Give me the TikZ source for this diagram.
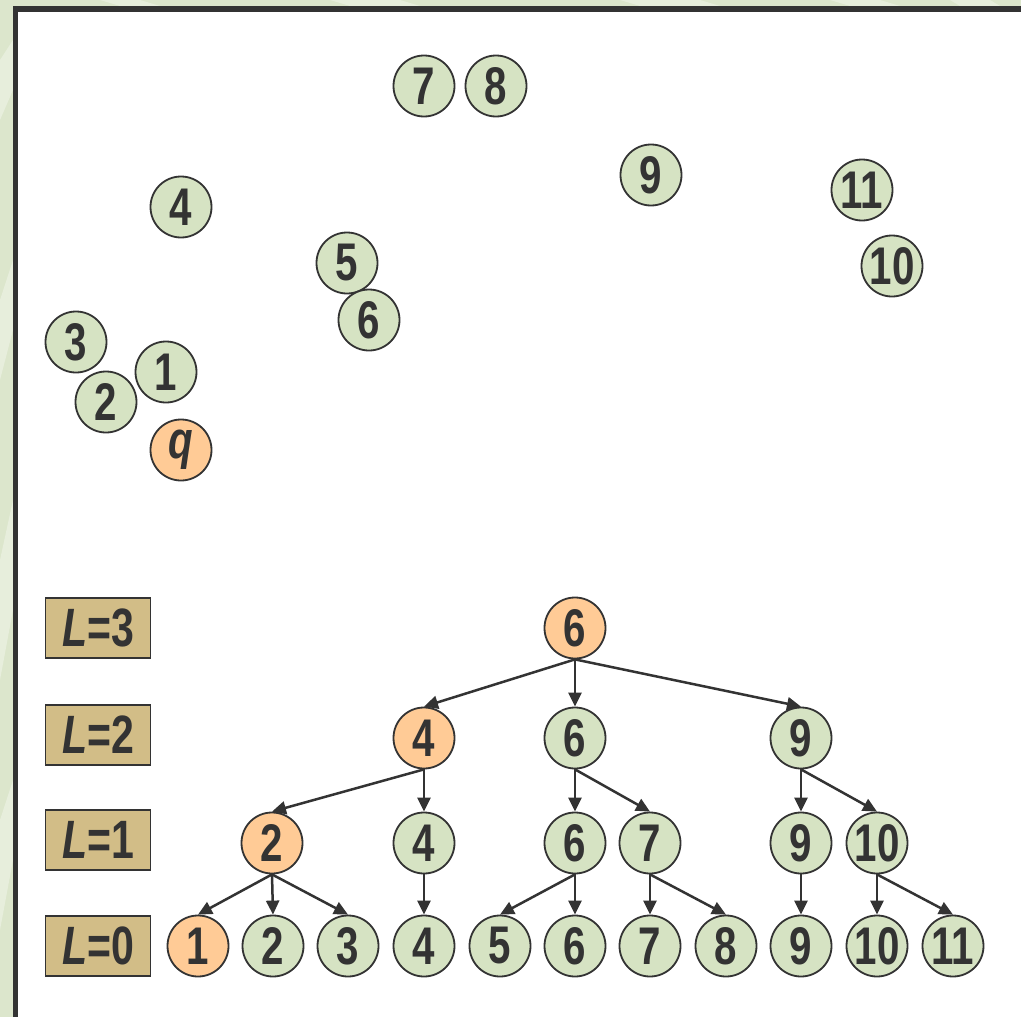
\documentclass[tikz,border=0pt]{standalone}
\usepackage{fontspec}
\setmainfont[FakeStretch=0.76]{Liberation Sans}
\usetikzlibrary{arrows.meta}
\definecolor{ink}{HTML}{333333}
\definecolor{gfill}{HTML}{D6E3C3}
\definecolor{ofill}{HTML}{FFCB96}
\definecolor{tan}{HTML}{D2BD87}
\definecolor{bgA}{HTML}{DCE6CC}
\definecolor{bgB}{HTML}{E7EEDC}
\tikzset{
  nd/.style={circle, draw=ink, line width=1.8pt, minimum size=61pt, inner sep=0pt,
    text=ink, font=\fontsize{53}{53}\selectfont\bfseries},
  gn/.style={nd, fill=gfill},
  on/.style={nd, fill=ofill},
  lvl/.style={draw=ink, line width=1.5pt, fill=tan, minimum width=105pt, minimum height=60pt,
    inner sep=0pt, text=ink, font=\fontsize{54}{54}\selectfont\bfseries},
  arr/.style={draw=ink, line width=2.5pt, -{Triangle[length=14pt,width=13pt]}},
}
\begin{document}
\begin{tikzpicture}[x=1pt,y=-1pt]
\useasboundingbox (0,0) rectangle (1021,1017);
% background
\fill[bgA] (0,0) rectangle (1021,1017);
\fill[bgB] (0,60) -- (13,40) -- (13,90) -- (0,120) -- cycle;
\fill[bgB] (0,300) -- (13,260) -- (13,330) -- (0,380) -- cycle;
\fill[bgB] (0,560) -- (13,500) -- (13,610) -- (0,680) -- cycle;
\fill[bgB] (0,820) -- (13,780) -- (13,860) -- (0,930) -- cycle;
\fill[bgB] (100,0) -- (140,0) -- (160,6) -- (120,6) -- cycle;
\fill[bgB] (330,0) -- (400,0) -- (420,6) -- (350,6) -- cycle;
\fill[bgB] (620,0) -- (700,0) -- (720,6) -- (640,6) -- cycle;
\fill[bgB] (830,0) -- (880,0) -- (900,6) -- (850,6) -- cycle;
\fill[bgB] (950,0) -- (990,0) -- (1000,6) -- (960,6) -- cycle;
\fill[ink] (13,6) rectangle (1021,1017);
\fill[white] (18,12) rectangle (1021,1017);
% scattered points
\node[gn] (t7) at (424,86) {7};
\node[gn] (t8) at (496,86) {8};
\node[gn] (t9) at (651,175) {9};
\node[gn] (t4) at (181,207) {4};
\node[gn] (t11) at (862,190) {11};
\node[gn] (t10) at (892,266) {10};
\node[gn] (t5) at (347,263) {5};
\node[gn] (t6) at (369,320) {6};
\node[gn] (t3) at (76,342) {3};
\node[gn] (t1) at (166,372) {1};
\node[gn] (t2) at (106,402) {2};
\node[on] (tq) at (181,450) {\itshape q};
% level labels
\node[lvl] (l3) at (98,628) {\textit{L}=3};
\node[lvl] (l2) at (98,735) {\textit{L}=2};
\node[lvl] (l1) at (98,840) {\textit{L}=1};
\node[lvl] (l0) at (98,946) {\textit{L}=0};
% tree
\node[on] (a6) at (575,628) {6};
\node[on] (b4) at (424,738) {4};
\node[gn] (b6) at (575,738) {6};
\node[gn] (b9) at (801,738) {9};
\node[on] (c2) at (272,843) {2};
\node[gn] (c4) at (424,843) {4};
\node[gn] (c6) at (575,843) {6};
\node[gn] (c7) at (650,843) {7};
\node[gn] (c9) at (801,843) {9};
\node[gn] (c10) at (877,843) {10};
\node[on] (d1) at (198,946) {1};
\node[gn] (d2) at (273,946) {2};
\node[gn] (d3) at (348,946) {3};
\node[gn] (d4) at (424,946) {4};
\node[gn] (d5) at (500,946) {5};
\node[gn] (d6) at (575,946) {6};
\node[gn] (d7) at (650,946) {7};
\node[gn] (d8) at (726,946) {8};
\node[gn] (d9) at (801,946) {9};
\node[gn] (d10) at (877,946) {10};
\node[gn] (d11) at (953,946) {11};
% edges
\foreach \p/\c in {a6/b4, a6/b6, a6/b9, b4/c2, b4/c4, b6/c6, b6/c7, b9/c9, b9/c10,
  c2/d1, c2/d2, c2/d3, c4/d4, c6/d5, c6/d6, c7/d7, c7/d8, c9/d9, c10/d10, c10/d11}
  \draw[arr] (\p.south) -- (\c.north);
\end{tikzpicture}
\end{document}
